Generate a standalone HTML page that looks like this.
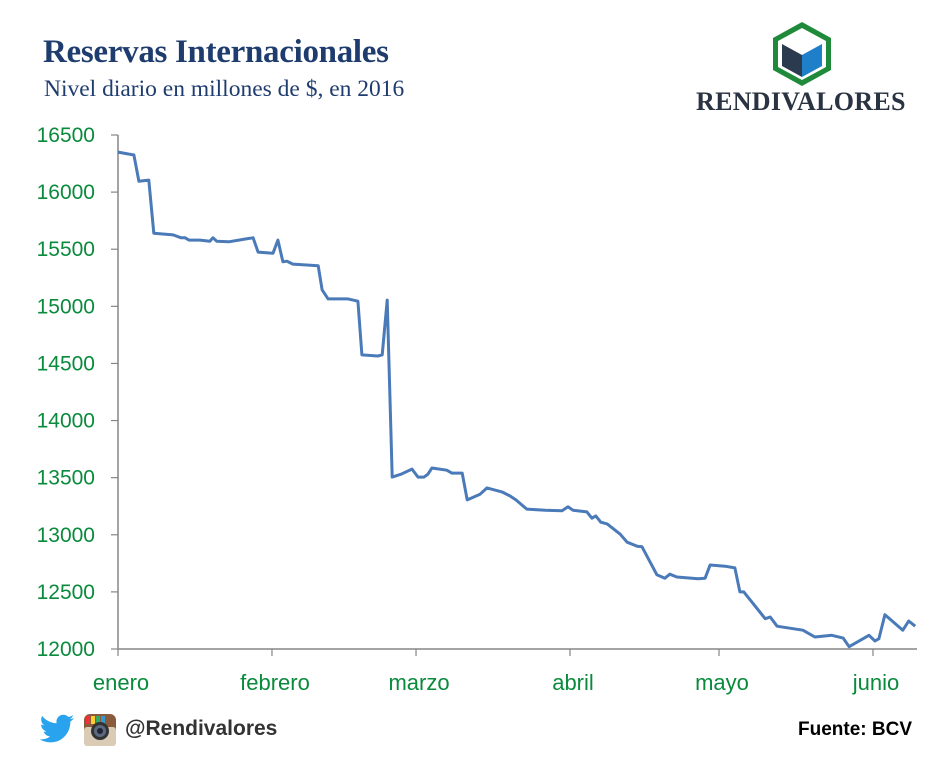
<!DOCTYPE html>
<html><head><meta charset="utf-8"><style>
body{margin:0;background:#fff;width:952px;height:762px;overflow:hidden;position:relative;font-family:"Liberation Sans",sans-serif}
.t{position:absolute;white-space:nowrap}
</style></head><body>
<div class="t" style="left:43px;top:34px;font-family:'Liberation Serif',serif;font-weight:bold;font-size:33px;color:#1f3c6e;letter-spacing:-0.3px">Reservas Internacionales</div>
<div class="t" style="left:44px;top:76px;font-family:'Liberation Serif',serif;font-size:23.5px;color:#1f3c6e">Nivel diario en millones de $, en 2016</div>
<svg style="position:absolute;left:770px;top:20px" width="64" height="68" viewBox="0 0 64 68">
<polygon points="32,2 61,18 61,50 32,66 3,50 3,18" fill="#1e8a3a"/>
<polygon points="32,8 56,21 56,47 32,60 8,47 8,21" fill="#fff"/>
<polygon points="32,12 52,23 32,34 12,23" fill="#fff"/>
<polygon points="12,24 32,35 32,57 12,46" fill="#2b3a4e"/>
<polygon points="52,24 32,35 32,57 52,46" fill="#1f7fc8"/>
</svg>
<div class="t" style="left:696px;top:87px;font-family:'Liberation Serif',serif;font-weight:bold;font-size:26px;color:#2a3342;letter-spacing:0.3px">RENDIVALORES</div>
<svg id="chart" style="position:absolute;left:0;top:0" width="952" height="762"></svg>
<svg style="position:absolute;left:39px;top:714px" width="36" height="32" viewBox="0 0 36 32">
<path d="M35 4c-1.3.6-2.6 1-4 1.1 1.5-.9 2.6-2.2 3.1-3.8-1.4.8-2.9 1.4-4.5 1.7C28.300 1.600 26.400.7 24.400.7c-3.900 0-7 3.100-7 7 0 .5.1 1.100.2 1.600C11.700 9 6.600 6.200 3.100 2 2.500 3 2.200 4.200 2.200 5.500c0 2.400 1.200 4.600 3.100 5.800-1.100 0-2.200-.3-3.200-.9v.1c0 3.400 2.400 6.200 5.600 6.900-.6.2-1.200.2-1.800.2-.4 0-.9 0-1.300-.1.9 2.800 3.500 4.800 6.500 4.900-2.400 1.900-5.400 3-8.700 3-.6 0-1.100 0-1.700-.1 3.100 2 6.800 3.100 10.700 3.100 12.900 0 19.900-10.700 19.900-19.900v-.9C32.900 6.600 34.100 5.400 35 4z" fill="#2aa3ef"/></svg>
<svg style="position:absolute;left:83px;top:713px" width="34" height="34" viewBox="0 0 34 34">
<rect x="1" y="1" width="32" height="32" rx="6" fill="#8a5a3c"/>
<rect x="1" y="14" width="32" height="19" rx="3" fill="#d9cbb5"/>
<rect x="3" y="3" width="4" height="8" fill="#e33"/><rect x="8" y="3" width="4" height="8" fill="#fc3"/><rect x="13" y="3" width="4" height="8" fill="#3a6"/><rect x="18" y="3" width="4" height="8" fill="#39c"/>
<circle cx="17" cy="18" r="9" fill="#333"/><circle cx="17" cy="18" r="6" fill="#5a6a80"/><circle cx="17" cy="18" r="3" fill="#223"/>
</svg>
<div class="t" style="left:125px;top:717px;font-weight:bold;font-size:21px;color:#333">@Rendivalores</div>
<div class="t" style="right:40px;top:719px;font-weight:bold;font-size:19px;color:#000">Fuente: BCV</div>
<script>
const days=[0,3.2,4.2,6.2,7.2,11.1,12.7,13.5,14.3,16.5,18.5,19.1,19.9,22.3,25.8,27.2,28.2,31.2,32.2,33.2,34,35.2,40.3,41.1,42.3,46.3,48.3,49.1,52.3,53.2,54.2,55.2,57,59.2,60.4,61.6,62.4,63.2,66.2,67.2,69.3,70.3,72.9,74.3,77.3,78.9,80.1,82.3,86,89.4,90.6,91.6,94.4,95.4,96.2,97.2,98.5,101.1,102.5,104.5,105.5,108.5,110.1,111.1,112.5,116.8,118.2,119.2,122.2,124.2,125.2,126,130.3,131.3,132.7,133.3,137.9,140.3,143.7,146,147.2,151.2,152.4,153.2,154.4,158,159.2,160.5];
const reservas=[16350,16325,16095,16105,15640,15625,15600,15600,15580,15580,15570,15600,15570,15565,15590,15600,15475,15465,15580,15390,15395,15370,15355,15145,15065,15065,15045,14575,14565,14575,15055,13505,13530,13575,13505,13505,13530,13585,13565,13540,13540,13305,13355,13410,13375,13340,13305,13225,13215,13210,13245,13215,13200,13145,13165,13110,13095,13005,12935,12900,12895,12650,12620,12655,12630,12615,12620,12735,12725,12710,12500,12500,12265,12280,12200,12195,12165,12105,12120,12095,12020,12120,12070,12090,12300,12165,12245,12200];
const yTicks=[12000,12500,13000,13500,14000,14500,15000,15500,16000,16500];
const months=["enero","febrero","marzo","abril","mayo","junio"];
const monthDays=[0,31,60,91,121,152];
const NS="http://www.w3.org/2000/svg",svg=document.getElementById('chart');
const X=d=>118+d*4.967, Y=v=>649-(v-12000)*(514/4500);
function mk(t,a){const e=document.createElementNS(NS,t);for(const k in a)e.setAttribute(k,a[k]);svg.appendChild(e);return e;}
const ya=mk('line',{x1:118,y1:135,x2:118,y2:649,stroke:'#868686','stroke-width':1.5});


const xa=mk('line',{x1:118,y1:649,x2:917,y2:649,stroke:'#868686','stroke-width':1.5});


yTicks.forEach(v=>{
 const tk=mk('line',{x1:111,y1:Y(v),x2:118,y2:Y(v),stroke:'#868686','stroke-width':1.2});
 
 
 const t=mk('text',{x:95,y:Y(v)+7,'text-anchor':'end','font-size':21,fill:'#0a8a3c','font-family':'Liberation Sans, sans-serif'});
 t.textContent=v;
 
 
});
months.forEach((m,i)=>{
 const x=X(monthDays[i]);
 const tk=mk('line',{x1:x,y1:649,x2:x,y2:656,stroke:'#868686','stroke-width':1.2});
 
 
 const t=mk('text',{x:x+3,y:690,'text-anchor':'middle','font-size':22,fill:'#0a8a3c','font-family':'Liberation Sans, sans-serif'});
 t.textContent=m;
 
 
});
const p=mk('polyline',{points:days.map((d,i)=>X(d).toFixed(1)+','+Y(reservas[i]).toFixed(1)).join(' '),fill:'none',stroke:'#4a7ab8','stroke-width':3,'stroke-linejoin':'round'});


</script>
</body></html>
